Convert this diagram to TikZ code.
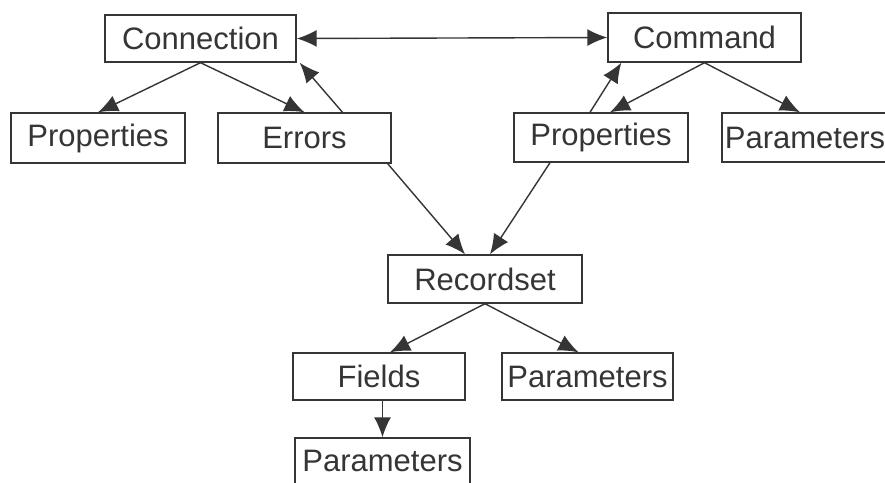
\documentclass[tikz,border=0pt]{standalone}
\usepackage{fontspec}
\setmainfont{Liberation Sans}
\usetikzlibrary{arrows.meta}
\definecolor{ink}{HTML}{353535}
\tikzset{
    box/.style={draw=ink, line width=1.4pt, inner sep=0pt, text=ink,
        font=\fontsize{31}{37}\selectfont},
    link/.style={draw=ink, line width=1.4pt, -{Latex[length=20pt,width=17pt]}}
}
\begin{document}
\begin{tikzpicture}[x=1pt, y=-1pt]
    \clip (0,0) rectangle (885,482);
    \fill[white] (0,0) rectangle (885,482);

    \node[box, minimum width=191pt, minimum height=47pt] (conn) at (200.5,38.5) {Connection};
    \node[box, minimum width=193pt, minimum height=49pt] (cmd) at (704.5,37.5) {Command};
    \node[box, minimum width=174pt, minimum height=50pt] (lprops) at (98,138) {Properties};
    \node[box, minimum width=173pt, minimum height=50pt] (errs) at (304.5,138) {Errors};
    \node[box, minimum width=174pt, minimum height=49pt] (cprops) at (601,137.5) {Properties};
    \node[box, minimum width=166pt, minimum height=49pt] (cparams) at (805,137.5) {Parameters};
    \node[box, minimum width=194pt, minimum height=48pt] (rs) at (485,279) {Recordset};
    \node[box, minimum width=172pt, minimum height=47pt] (fields) at (379,376.5) {Fields};
    \node[box, minimum width=171pt, minimum height=47pt] (mparams) at (587.5,376.5) {Parameters};
    \node[box, minimum width=175pt, minimum height=46pt] (bparams) at (382.5,461) {Parameters};

    \foreach \u/\v in {%
        conn/lprops,
        conn/errs%
        }{
        \draw[link] (\u.south) -- (\v.north);
    }

    \draw[link, {Latex[length=20pt,width=17pt]}-{Latex[length=20pt,width=17pt]}] (conn.east) -- (cmd.west);
    \draw[link] ([xshift=38pt]errs.north) -- ([xshift=3pt]conn.south east);
    \draw[link] (cmd.south) -- ([xshift=9pt]cprops.north);
    \draw[link] (cmd.south) -- ([xshift=-5pt]cparams.north);
    \draw[link] ([xshift=-11pt]cprops.north) -- ([xshift=14pt]cmd.south west);
    \draw[link] ([xshift=-4pt]errs.south east) -- ([xshift=-20pt]rs.north);
    \draw[link] ([xshift=-51pt]cprops.south) -- ([xshift=5pt]rs.north);
    \draw[link] (rs.south) -- ([xshift=11pt]fields.north);
    \draw[link] (rs.south) -- ([xshift=-9pt]mparams.north);
    \draw[link] ([xshift=3.5pt]fields.south) -- (bparams.north);
\end{tikzpicture}
\end{document}
